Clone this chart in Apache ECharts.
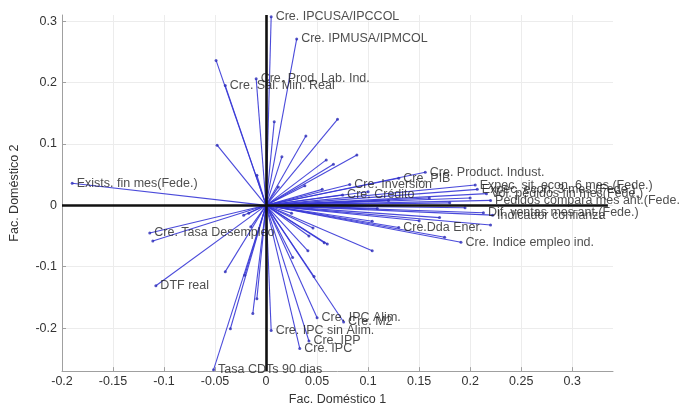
<!DOCTYPE html>
<html><head><meta charset="utf-8">
<script src="https://cdn.jsdelivr.net/npm/echarts@6/dist/echarts.min.js"></script>
<style>html,body{margin:0;padding:0;background:#fff;overflow:hidden}#c{width:679px;height:411px}</style>
</head><body><div id="c"></div>
<script>
// Labelled variables (loadings on factor 1 and factor 2)
const labelNames = ["Exists. fin mes(Fede.)","Cre. IPCUSA/IPCCOL","Cre. IPMUSA/IPMCOL","Cre. Prod. Lab. Ind.","Cre. Sal. Min. Real",
  "Cre. Product. Indust.","Cre. PIB","Cre. Inversion","Cre. Crédito","Expec. sit. econ. 6 mes (Fede.)","Expec. econ. 3 mes (Fede.)",
  "Vol. pedidos fin mes(Fede.)","Pedidos compara mes ant.(Fede.)","Dif. ventas mes ant.(Fede.)","Indicador confianza","Cre.Dda Ener.",
  "Cre. Indice empleo ind.","Cre. Tasa Desempleo","DTF real","Cre. IPC Alim.","Cre. M2","Cre. IPC sin Alim.","Cre. IPP","Cre. IPC","Tasa CDTs 90 dias"];
const labelX = [-0.190,0.005,0.030,-0.0097,-0.040, 0.156,0.130,0.082,0.075,0.205,0.207, 0.216,0.220,0.213,0.222,0.130, 0.191,-0.114,-0.108,0.050,0.076,0.005,0.042,0.033,-0.0515];
const labelY = [0.036,0.307,0.271,0.206,0.195, 0.054,0.044,0.034,0.017,0.033,0.026, 0.019,0.008,-0.012,-0.016,-0.036, -0.060,-0.045,-0.131,-0.183,-0.190,-0.204,-0.221,-0.233,-0.268];
// Unlabelled variables
const otherX = [-0.049,-0.048,-0.009, 0.008,0.0155,0.039,0.070,0.059,0.066,0.089,0.038,0.012,0.055,
  0.160,0.180,0.195,0.170,0.150,0.120,0.100,0.200,0.109,0.104,0.220,0.175,0.104,
  0.060,0.057,0.046,0.042,0.025,0.026,0.047,0.041,
  -0.111,-0.035,-0.040,-0.013,-0.009,-0.021,-0.022,-0.017,-0.015];
const otherY = [0.236,0.098,0.049, 0.136,0.079,0.113,0.140,0.074,0.067,0.082,0.032,0.030,0.026,
  0.012,0.004,-0.004,-0.020,-0.025,0.008,0.022,0.012,-0.005,-0.026,-0.032,-0.052,-0.074,
  -0.063,-0.061,-0.037,-0.050,-0.013,-0.085,-0.116,-0.074,
  -0.058,-0.201,-0.108,-0.176,-0.152,-0.114,-0.016,-0.013,-0.035];
const xTicks = [-0.2,-0.15,-0.1,-0.05,0,0.05,0.1,0.15,0.2,0.25,0.3];
const yTicks = [-0.2,-0.1,0,0.1,0.2,0.3];
const xRange = [-0.2, 0.34];
const yRange = [-0.27, 0.31];
const hAxisEnd = 0.335;

const fmt = v => String(parseFloat((+v).toFixed(2)));
const allX = labelX.concat(otherX), allY = labelY.concat(otherY);
const vecData = allX.map((x, i) => ({coords: [[0, 0], [x, allY[i]]]}));
const ends = allX.map((x, i) => [x, allY[i]]);
const labelled = labelX.map((x, i) => ({name: labelNames[i], value: [x, labelY[i]]}));
const font = 'Liberation Sans, Arial, sans-serif';

const chart = echarts.init(document.getElementById('c'), null, {renderer: 'canvas', width: 679, height: 411});
chart.setOption({
  animation: false,
  backgroundColor: '#fff',
  grid: {left: 56, right: 66, top: 15, bottom: 31, containLabel: false},
  xAxis: {
    type: 'value', min: xRange[0], max: xRange[1],
    name: 'Fac. Doméstico 1', nameLocation: 'middle', nameGap: 21,
    nameTextStyle: {fontFamily: font, fontSize: 12.5, color: '#333'},
    axisLine: {show: true, onZero: false, lineStyle: {color: '#a0a0a0', width: 1}},
    axisTick: {show: true, inside: true, length: 4, customValues: xTicks, lineStyle: {color: '#a0a0a0'}},
    axisLabel: {customValues: xTicks, formatter: fmt, fontFamily: font, fontSize: 12.5, color: '#333', margin: 4},
    splitLine: {show: true, lineStyle: {color: '#ececec', width: 1}}
  },
  yAxis: {
    type: 'value', min: yRange[0], max: yRange[1],
    name: 'Fac. Doméstico 2', nameLocation: 'middle', nameGap: 41, nameRotate: 90,
    nameTextStyle: {fontFamily: font, fontSize: 12.5, color: '#333'},
    axisLine: {show: true, onZero: false, lineStyle: {color: '#a0a0a0', width: 1}},
    axisTick: {show: true, inside: true, length: 4, customValues: yTicks, lineStyle: {color: '#a0a0a0'}},
    axisLabel: {customValues: yTicks, formatter: fmt, fontFamily: font, fontSize: 12.5, color: '#333', margin: 5},
    splitLine: {show: true, lineStyle: {color: '#ececec', width: 1}}
  },
  series: [
    {
      type: 'lines', coordinateSystem: 'cartesian2d', polyline: false, silent: true, z: 2,
      lineStyle: {color: '#3636d6', width: 1.1, opacity: 0.9},
      data: vecData
    },
    {
      type: 'scatter', symbol: 'circle', symbolSize: 3, silent: true, z: 3,
      itemStyle: {color: '#2a2ab8'},
      data: ends
    },
    {
      type: 'scatter', symbolSize: 1, silent: true, z: 5,
      itemStyle: {color: 'rgba(0,0,0,0)'},
      label: {show: true, position: 'right', distance: 4, offset: [0, -3], formatter: p => p.name,
        fontFamily: font, fontSize: 12.5, color: '#222'},
      labelLayout: {hideOverlap: false},
      data: labelled
    },
    {
      type: 'lines', coordinateSystem: 'cartesian2d', polyline: false, silent: true, z: 4,
      lineStyle: {color: '#111', width: 2.6, opacity: 1},
      data: [
        {coords: [[xRange[0], 0], [hAxisEnd, 0]]},
        {coords: [[0, yRange[0]], [0, yRange[1]]]}
      ]
    }
  ]
});
</script></body></html>
